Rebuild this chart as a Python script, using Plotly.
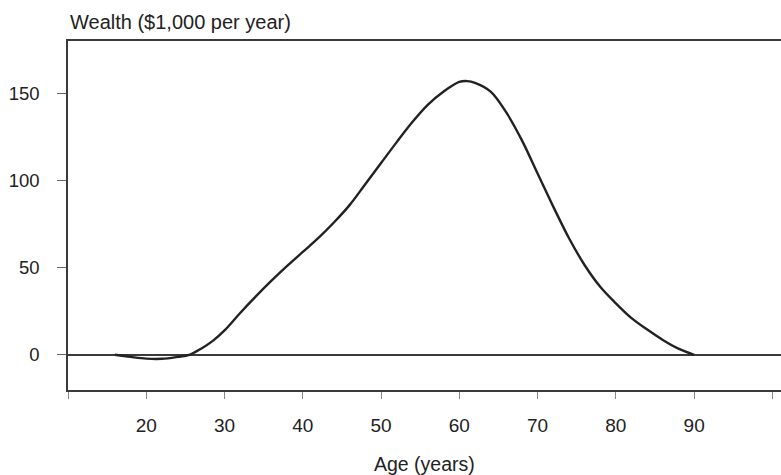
import plotly.graph_objects as go

ages = [16, 18, 20, 22, 24, 25.5, 27, 28.5, 30, 32, 34, 36, 38, 40, 42, 44, 46, 48, 50,
        52, 54, 56, 58, 60, 61, 62, 64, 66, 68, 70, 72, 74, 76, 78, 80, 82, 84, 86, 88, 90]
wealth = [0, -1.2, -2.2, -2.3, -1.2, 0, 3.5, 8, 14, 24, 33.5, 42.5, 51, 59, 67, 76, 86, 98, 110,
          122, 133.5, 143.5, 151, 156.5, 157, 156, 151, 139, 123, 104, 85, 67, 51.5, 39,
          29.5, 21, 14.5, 8.5, 3.5, 0]

x_tickvals = [10, 20, 30, 40, 50, 60, 70, 80, 90, 100]
x_ticktext = ["", "20", "30", "40", "50", "60", "70", "80", "90", ""]
y_tickvals = [0, 50, 100, 150]

FONT = "Liberation Sans, Arial, sans-serif"
FRAME = "#3a3a3a"

fig = go.Figure()
fig.add_trace(go.Scatter(
    x=ages, y=wealth, mode="lines",
    line=dict(color="#222222", width=2.4, shape="spline", smoothing=1.0),
    showlegend=False, hoverinfo="skip",
))

fig.update_layout(
    width=781, height=475,
    margin=dict(l=68, r=0, t=41, b=85),
    paper_bgcolor="white", plot_bgcolor="white",
    font=dict(family=FONT, size=19, color="#222222"),
    xaxis=dict(
        range=[10, 101.1], tickmode="array", tickvals=x_tickvals, ticktext=x_ticktext,
        showline=True, linecolor=FRAME, linewidth=1.6, mirror=True,
        ticks="outside", ticklen=7, tickcolor="#888888", tickwidth=1,
        showgrid=False, zeroline=False, ticklabelstandoff=10, automargin=False,
        tickfont=dict(size=19),
    ),
    yaxis=dict(
        range=[-20.2, 180], tickmode="array", tickvals=y_tickvals,
        showline=True, linecolor=FRAME, linewidth=1.6, mirror=False,
        ticks="outside", ticklen=9, tickcolor="#666666", tickwidth=1,
        showgrid=False, zeroline=True, zerolinecolor=FRAME, zerolinewidth=1.6,
        ticklabelstandoff=14, automargin=False, tickfont=dict(size=18.5),
    ),
    annotations=[
        dict(
            text="Wealth ($1,000 per year)", xref="paper", yref="paper",
            x=0, y=1, xanchor="left", yanchor="bottom", yshift=6,
            showarrow=False, font=dict(family=FONT, size=20, color="#222222"),
        ),
        dict(
            text="Age (years)", xref="paper", yref="paper",
            x=0.5, y=0, xanchor="center", yanchor="middle", yshift=-74,
            showarrow=False, font=dict(family=FONT, size=19.5, color="#222222"),
        ),
    ],
)

fig.write_html(
    "out.html",
    config={"displayModeBar": False},
    post_script="document.body.style.margin='0';document.body.style.overflow='hidden';",
)
